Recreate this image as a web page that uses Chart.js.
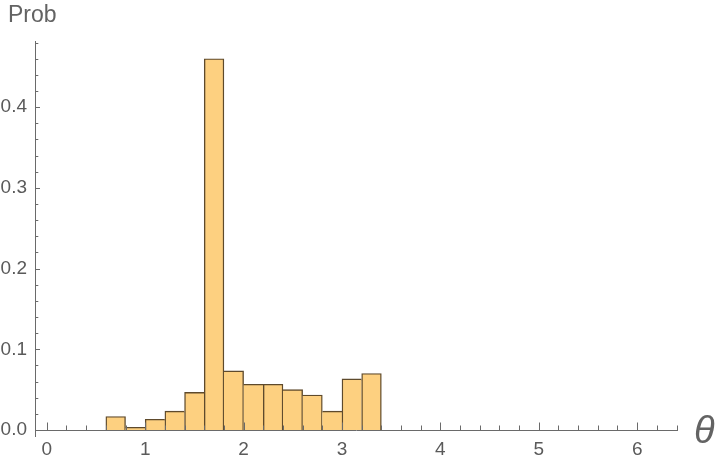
<!DOCTYPE html>
<html>
<head>
<meta charset="utf-8">
<script src="https://cdn.jsdelivr.net/npm/chart.js@4.4.1/dist/chart.umd.min.js"></script>
<style>
  html, body { margin: 0; padding: 0; background: #ffffff; }
  #wrap { position: relative; width: 720px; height: 464px; overflow: hidden; }
  #chart { position: absolute; left: 0; top: 0; }
  .lbl { position: absolute; font-family: "Liberation Sans", Arial, sans-serif; color: #636363; line-height: 1; white-space: nowrap; }
  #ylab { left: 8px; top: 3px; font-size: 23px; }
  #xlab { left: 694px; top: 411px; font-size: 38px; font-style: italic; }
</style>
</head>
<body>
<div id="wrap">
  <canvas id="chart" width="720" height="464"></canvas>
  <div class="lbl" id="ylab">Prob</div>
  <div class="lbl" id="xlab">θ</div>
</div>
<script>
// Histogram bins (centre of each 0.2-wide bin) and probabilities
const binCenters = [0.7, 0.9, 1.1, 1.3, 1.5, 1.7, 1.9, 2.1, 2.3, 2.5, 2.7, 2.9, 3.1, 3.3];
const probs = [0.0167, 0.0033, 0.0133, 0.0233, 0.0467, 0.46, 0.0733, 0.0567, 0.0567, 0.05, 0.0433, 0.0233, 0.0633, 0.07];
const xTickValues = [0, 1, 2, 3, 4, 5, 6];
const yTickValues = [0, 0.1, 0.2, 0.3, 0.4];
const xMinorStep = 0.2;
const yMinorStep = 0.02;

const AXIS_COLOR = '#6a6a6a';
const TEXT_COLOR = '#5a5a5a';
const FILL = '#FDD080';
const EDGE = '#5E4A2C';
const TICK_FONT = '"Liberation Sans", Arial, sans-serif';

function edgeWidths(ctx) {
  const i = ctx.dataIndex;
  const h = probs[i];
  const prev = i > 0 ? probs[i - 1] : -1;
  const next = i < probs.length - 1 ? probs[i + 1] : -1;
  const w = 1.4;
  return {
    top: w,
    left: (prev <= h) ? w : 0,
    right: (next < h) ? w : 0,
    bottom: 0
  };
}

const axesPlugin = {
  id: 'mmaAxes',
  afterDatasetsDraw(chart) {
    const ctx = chart.ctx;
    const xs = chart.scales.x, ys = chart.scales.y;
    const area = chart.chartArea;
    const y0 = ys.getPixelForValue(0);
    ctx.save();
    ctx.strokeStyle = AXIS_COLOR;
    ctx.lineWidth = 1;
    // x axis line
    ctx.beginPath();
    ctx.moveTo(area.left, Math.round(y0) + 0.5);
    ctx.lineTo(area.right, Math.round(y0) + 0.5);
    ctx.stroke();
    // y axis line
    ctx.beginPath();
    ctx.moveTo(Math.round(area.left) + 0.5, area.top);
    ctx.lineTo(Math.round(area.left) + 0.5, area.bottom + 7);
    ctx.stroke();
    // x ticks (inward)
    const nX = Math.floor((xs.max + 1e-9) / xMinorStep);
    for (let k = 0; k <= nX; k++) {
      const v = k * xMinorStep;
      const isMajor = Math.abs(v - Math.round(v)) < 1e-6 && xTickValues.includes(Math.round(v));
      const px = Math.round(xs.getPixelForValue(v)) + 0.5;
      const len = isMajor ? 7.5 : 4.5;
      ctx.beginPath();
      ctx.moveTo(px, Math.round(y0));
      ctx.lineTo(px, Math.round(y0) - len);
      ctx.stroke();
    }
    // y ticks (inward)
    const nY = Math.floor((ys.max + 1e-9) / yMinorStep);
    for (let k = 0; k <= nY; k++) {
      const v = k * yMinorStep;
      const isMajor = Math.abs(v * 10 - Math.round(v * 10)) < 1e-6;
      const py = Math.round(ys.getPixelForValue(v)) + 0.5;
      const len = isMajor ? 5 : 3.3;
      ctx.beginPath();
      ctx.moveTo(Math.round(area.left), py);
      ctx.lineTo(Math.round(area.left) + len, py);
      ctx.stroke();
    }
    ctx.restore();
  }
};

new Chart(document.getElementById('chart'), {
  type: 'bar',
  data: {
    datasets: [{
      data: binCenters.map((x, i) => ({ x: x, y: probs[i] })),
      backgroundColor: FILL,
      borderColor: EDGE,
      borderWidth: edgeWidths,
      borderSkipped: false,
      categoryPercentage: 1.0,
      barPercentage: 1.0
    }]
  },
  options: {
    responsive: false,
    animation: false,
    devicePixelRatio: 1,
    layout: { padding: { top: 41, right: 42, left: 0, bottom: 0 } },
    plugins: { legend: { display: false }, tooltip: { enabled: false }, title: { display: false } },
    scales: {
      x: {
        type: 'linear',
        min: -0.12,
        max: 6.415,
        offset: false,
        grid: { display: false, drawTicks: false },
        border: { display: false },
        afterBuildTicks: (s) => { s.ticks = xTickValues.map(v => ({ value: v })); },
        afterFit: (s) => { s.height = 34; },
        ticks: {
          padding: 8,
          color: TEXT_COLOR,
          font: { family: TICK_FONT, size: 19 },
          maxRotation: 0,
          autoSkip: false,
          callback: (v) => String(v)
        }
      },
      y: {
        type: 'linear',
        min: 0,
        max: 0.482,
        grid: { display: false, drawTicks: false },
        border: { display: false },
        afterBuildTicks: (s) => { s.ticks = yTickValues.map(v => ({ value: v })); },
        afterFit: (s) => { s.width = 35; },
        ticks: {
          padding: 8,
          color: TEXT_COLOR,
          font: { family: TICK_FONT, size: 19 },
          autoSkip: false,
          callback: (v) => Number(v).toFixed(1)
        }
      }
    }
  },
  plugins: [axesPlugin]
});
</script>
</body>
</html>
